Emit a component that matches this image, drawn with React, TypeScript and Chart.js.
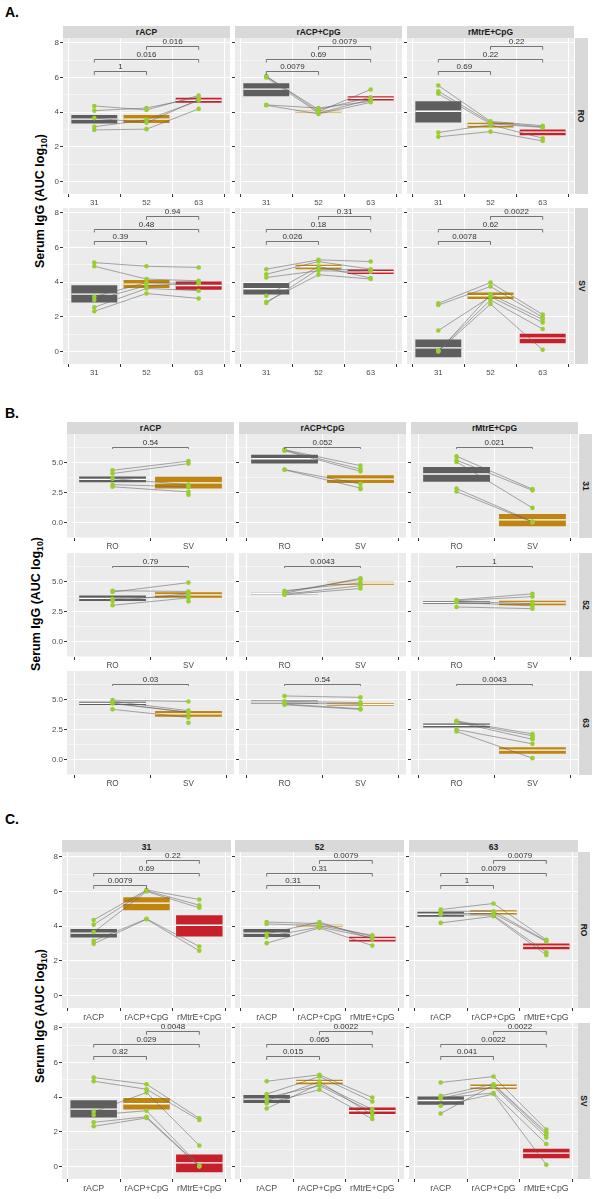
import React, { useEffect, useRef } from "react";
import { Chart, registerables } from "chart.js";

Chart.register(...registerables);

// ---------- categories ----------
const DAYS = ["31", "52", "63"];
const ANTIGENS = ["rACP", "rACP+CpG", "rMtrE+CpG"];
const ROUTES = ["RO", "SV"];

// ---------- subject values (log10 AUC) ----------
const rACP_RO_31 = [4.36, 4.09, 3.66, 3.16, 2.98];
const rACP_RO_52 = [4.13, 4.24, 3.39, 3.56, 3.02];
const rACP_RO_63 = [4.96, 4.86, 4.73, 4.67, 4.19];
const rACPCpG_RO_31 = [6.09, 6.05, 6.0, 4.42, 4.4];
const rACPCpG_RO_52 = [4.03, 4.15, 3.95, 4.24, 3.9];
const rACPCpG_RO_63 = [5.31, 4.86, 4.73, 4.63, 4.57];
const rMtrECpG_RO_31 = [5.54, 5.21, 5.06, 2.83, 2.58];
const rMtrECpG_RO_52 = [3.47, 3.41, 3.33, 3.27, 2.88];
const rMtrECpG_RO_63 = [3.22, 3.15, 3.12, 2.5, 2.34];
const rACP_SV_31 = [5.13, 4.92, 3.16, 2.97, 2.55, 2.32];
const rACP_SV_52 = [4.92, 4.18, 3.98, 3.8, 3.64, 3.35];
const rACP_SV_63 = [4.85, 4.08, 3.93, 3.95, 3.51, 3.06];
const rACPCpG_SV_31 = [4.75, 4.46, 4.27, 3.22, 2.87, 2.8];
const rACPCpG_SV_52 = [5.29, 5.19, 4.66, 4.9, 4.43, 4.75];
const rACPCpG_SV_63 = [5.19, 4.75, 4.6, 4.24, 4.18, 4.7];
const rMtrECpG_SV_31 = [2.78, 2.68, 1.21, 0.06, 0.02, 0.0];
const rMtrECpG_SV_52 = [3.98, 3.75, 3.16, 2.97, 2.74, 3.3];
const rMtrECpG_SV_63 = [2.13, 1.97, 1.68, 1.3, 0.1, 1.85];

// ---------- box stats [low, middle, high] ----------
const rACP_RO_31_box = [3.35, 3.6, 3.84];
const rACP_RO_52_box = [3.37, 3.6, 3.84];
const rACP_RO_63_box = [4.55, 4.69, 4.83];
const rACPCpG_RO_31_box = [4.92, 5.33, 5.67];
const rACPCpG_RO_52_box = [3.95, 4.02, 4.08];
const rACPCpG_RO_63_box = [4.67, 4.8, 4.92];
const rMtrECpG_RO_31_box = [3.41, 4.05, 4.63];
const rMtrECpG_RO_52_box = [3.12, 3.26, 3.39];
const rMtrECpG_RO_63_box = [2.67, 2.85, 3.0];
const rACP_SV_31_box = [2.83, 3.31, 3.83];
const rACP_SV_52_box = [3.66, 3.89, 4.12];
const rACP_SV_63_box = [3.56, 3.81, 4.04];
const rACPCpG_SV_31_box = [3.29, 3.62, 3.95];
const rACPCpG_SV_52_box = [4.75, 4.89, 5.0];
const rACPCpG_SV_63_box = [4.47, 4.6, 4.73];
const rMtrECpG_SV_31_box = [-0.33, 0.21, 0.69];
const rMtrECpG_SV_52_box = [3.03, 3.22, 3.41];
const rMtrECpG_SV_63_box = [0.48, 0.77, 1.02];

// ---------- p-values: [1 vs 2, 1 vs 3, 2 vs 3] ----------
const P_A_RO = [["1", "0.016", "0.016"], ["0.0079", "0.69", "0.0079"], ["0.69", "0.22", "0.22"]];
const P_A_SV = [["0.39", "0.48", "0.94"], ["0.026", "0.18", "0.31"], ["0.0078", "0.62", "0.0022"]];
const P_B_31 = ["0.54", "0.052", "0.021"];
const P_B_52 = ["0.79", "0.0043", "1"];
const P_B_63 = ["0.03", "0.54", "0.0043"];
const P_C_RO = [["0.0079", "0.69", "0.22"], ["0.31", "0.31", "0.0079"], ["1", "0.0079", "0.0079"]];
const P_C_SV = [["0.82", "0.029", "0.0048"], ["0.015", "0.065", "0.0022"], ["0.041", "0.0022", "0.0022"]];

// ---------- axes ----------
const Y_TICKS_8 = [0, 2, 4, 6, 8];
const Y_MINOR_8 = [1, 3, 5, 7];
const Y_TICKS_5 = [0, 2.5, 5];
const Y_MINOR_5 = [-1.25, 1.25, 3.75, 6.25];
const BRACKET_LEVELS = [6.35, 7.07, 7.8];

type Group = { vals: number[]; box: number[] };
const GROUPS: Record<string, Group> = {
  "rACP|RO|31": { vals: rACP_RO_31, box: rACP_RO_31_box },
  "rACP|RO|52": { vals: rACP_RO_52, box: rACP_RO_52_box },
  "rACP|RO|63": { vals: rACP_RO_63, box: rACP_RO_63_box },
  "rACP+CpG|RO|31": { vals: rACPCpG_RO_31, box: rACPCpG_RO_31_box },
  "rACP+CpG|RO|52": { vals: rACPCpG_RO_52, box: rACPCpG_RO_52_box },
  "rACP+CpG|RO|63": { vals: rACPCpG_RO_63, box: rACPCpG_RO_63_box },
  "rMtrE+CpG|RO|31": { vals: rMtrECpG_RO_31, box: rMtrECpG_RO_31_box },
  "rMtrE+CpG|RO|52": { vals: rMtrECpG_RO_52, box: rMtrECpG_RO_52_box },
  "rMtrE+CpG|RO|63": { vals: rMtrECpG_RO_63, box: rMtrECpG_RO_63_box },
  "rACP|SV|31": { vals: rACP_SV_31, box: rACP_SV_31_box },
  "rACP|SV|52": { vals: rACP_SV_52, box: rACP_SV_52_box },
  "rACP|SV|63": { vals: rACP_SV_63, box: rACP_SV_63_box },
  "rACP+CpG|SV|31": { vals: rACPCpG_SV_31, box: rACPCpG_SV_31_box },
  "rACP+CpG|SV|52": { vals: rACPCpG_SV_52, box: rACPCpG_SV_52_box },
  "rACP+CpG|SV|63": { vals: rACPCpG_SV_63, box: rACPCpG_SV_63_box },
  "rMtrE+CpG|SV|31": { vals: rMtrECpG_SV_31, box: rMtrECpG_SV_31_box },
  "rMtrE+CpG|SV|52": { vals: rMtrECpG_SV_52, box: rMtrECpG_SV_52_box },
  "rMtrE+CpG|SV|63": { vals: rMtrECpG_SV_63, box: rMtrECpG_SV_63_box },
};
const G = (a: string, r: string, d: string) => GROUPS[a + "|" + r + "|" + d];

// ---------- styles ----------
const FILLS = ["#5E5E5E", "#BE8510", "#C6202A"];
const POINT = "#9ACD32";
const LINE = "rgba(100,100,100,0.8)";
const FONT = '"Liberation Sans", Arial, sans-serif';
const PAD_L = 30;
const PAD_L_OTHER = 4;
const PAD_B = 16;

type Spec = {
  id: string;
  left: number;
  top: number;
  w: number;
  h: number;
  first: boolean;
  cats: string[];
  groups: Group[];
  pvals: string[];
  yMin: number;
  yMax: number;
  yMajor: number[];
  yMinor: number[];
  yDigits: number;
  xFont: number;
};

function Panel({ s }: { s: Spec }) {
  const ref = useRef<HTMLCanvasElement>(null);
  const padL = s.first ? PAD_L : PAD_L_OTHER;
  const cw = Math.round(s.w) + padL;
  const ch = Math.round(s.h) + PAD_B;
  useEffect(() => {
    const canvas = ref.current!;
    const n = s.cats.length;
    const nSub = Math.max(...s.groups.map((g) => g.vals.length));
    const datasets: any[] = [
      {
        type: "bar",
        data: s.groups.map((g, i) => ({ x: i + 1, y: [g.box[0], g.box[2]] })),
        backgroundColor: s.groups.map((_, i) => FILLS[i]),
        borderWidth: 0,
        barPercentage: 0.88,
        categoryPercentage: 1,
        order: 10,
      },
    ];
    for (let k = 0; k < nSub; k++) {
      const pts: any[] = [];
      s.groups.forEach((g, i) => {
        if (g.vals[k] !== undefined) pts.push({ x: i + 1, y: g.vals[k] });
      });
      datasets.push({
        type: "line",
        data: pts,
        borderColor: LINE,
        borderWidth: 0.7,
        pointRadius: 2.3,
        pointHoverRadius: 2.3,
        pointBackgroundColor: POINT,
        pointBorderWidth: 0,
        tension: 0,
        fill: false,
        order: 1,
      });
    }
    const medians = s.groups.map((g) => g.box[1]);
    const pairs = n === 3 ? [[1, 2], [1, 3], [2, 3]] : [[1, 2]];
    const isMinor = (v: number) => s.yMinor.some((m) => Math.abs(m - v) < 1e-6);
    const plugins: any[] = [
      {
        id: "panelBg",
        beforeDraw(chart: any) {
          const a = chart.chartArea;
          const c = chart.ctx;
          c.save();
          c.fillStyle = "#EBEBEB";
          c.fillRect(a.left, a.top, a.right - a.left, a.bottom - a.top);
          c.restore();
        },
      },
      {
        id: "medianLine",
        afterDatasetDraw(chart: any, args: any) {
          if (args.index !== 0) return;
          const meta = chart.getDatasetMeta(0);
          const ys = chart.scales.y;
          const c = chart.ctx;
          c.save();
          c.strokeStyle = "#FFFFFF";
          c.lineWidth = 1.4;
          meta.data.forEach((bar: any, i: number) => {
            const p = bar.getProps(["x", "width"], true);
            const yy = ys.getPixelForValue(medians[i]);
            c.beginPath();
            c.moveTo(p.x - p.width / 2, yy);
            c.lineTo(p.x + p.width / 2, yy);
            c.stroke();
          });
          c.restore();
        },
      },
      {
        id: "brackets",
        afterDatasetsDraw(chart: any) {
          const xs = chart.scales.x;
          const ys = chart.scales.y;
          const c = chart.ctx;
          c.save();
          pairs.forEach(([a, b], j) => {
            const lv = BRACKET_LEVELS[j];
            const y = Math.round(ys.getPixelForValue(lv)) + 0.5;
            const yt = ys.getPixelForValue(lv - 0.2);
            const x1 = xs.getPixelForValue(a);
            const x2 = xs.getPixelForValue(b);
            c.strokeStyle = "#555555";
            c.lineWidth = 0.8;
            c.beginPath();
            c.moveTo(x1, yt);
            c.lineTo(x1, y);
            c.lineTo(x2, y);
            c.lineTo(x2, yt);
            c.stroke();
            c.fillStyle = "#333333";
            c.font = "8px " + FONT;
            c.textAlign = "center";
            c.textBaseline = "bottom";
            c.fillText(s.pvals[j], (x1 + x2) / 2, y - 0.5);
          });
          c.restore();
        },
      },
    ];
    const chart = new Chart(canvas, {
      type: "bar",
      data: { datasets },
      plugins,
      options: {
        responsive: false,
        animation: false,
        events: [],
        layout: { padding: 0, autoPadding: false },
        plugins: { legend: { display: false }, tooltip: { enabled: false } },
        scales: {
          x: {
            type: "linear",
            min: 0.4,
            max: n + 0.6,
            offset: false,
            afterBuildTicks: (ax: any) => {
              ax.ticks = s.cats.map((_, i) => ({ value: i + 1 }));
            },
            afterFit: (ax: any) => {
              ax.height = PAD_B;
              ax.paddingLeft = 0;
              ax.paddingRight = 0;
            },
            ticks: {
              autoSkip: false,
              maxRotation: 0,
              padding: 1,
              color: "#4D4D4D",
              font: { family: FONT, size: s.xFont },
              callback: (v: any) => s.cats[Math.round(Number(v)) - 1] ?? "",
            },
            grid: { color: "#FFFFFF", lineWidth: 1, tickColor: "#333333", tickLength: 3, drawTicks: true },
            border: { display: false },
          },
          y: {
            type: "linear",
            min: s.yMin,
            max: s.yMax,
            afterBuildTicks: (ax: any) => {
              ax.ticks = [...s.yMajor, ...s.yMinor]
                .filter((v) => v >= s.yMin && v <= s.yMax)
                .sort((a, b) => a - b)
                .map((v) => ({ value: v }));
            },
            afterFit: (ax: any) => {
              ax.width = padL;
              ax.paddingTop = 0;
              ax.paddingBottom = 0;
            },
            ticks: {
              display: s.first,
              autoSkip: false,
              padding: 1,
              color: "#4D4D4D",
              font: { family: FONT, size: 8 },
              callback: (v: any) => (isMinor(Number(v)) ? "" : Number(v).toFixed(s.yDigits)),
            },
            grid: {
              color: "#FFFFFF",
              lineWidth: (ctx: any) => (ctx.tick && isMinor(ctx.tick.value) ? 0.5 : 1),
              tickColor: (ctx: any) => (ctx.tick && isMinor(ctx.tick.value) ? "rgba(0,0,0,0)" : "#333333"),
              tickLength: 3,
              drawTicks: true,
            },
            border: { display: false },
          },
        },
      },
    } as any);
    return () => chart.destroy();
  }, []);
  return (
    <canvas
      ref={ref}
      width={cw}
      height={ch}
      style={{ position: "absolute", left: Math.round(s.left) - padL, top: Math.round(s.top), width: cw, height: ch }}
    />
  );
}

type Section = {
  label: string;
  labelTop: number;
  colLefts: number[];
  w: number;
  rowTops: number[];
  h: number;
  stripTop: number;
  stripH: number;
  rStripLeft: number;
  rStripW: number;
  titleX: number;
  colLabels: string[];
  rowLabels: string[];
  xFont: number;
  yMin: number;
  yMax: number;
  yMajor: number[];
  yMinor: number[];
  yDigits: number;
  panel: (r: number, c: number) => { cats: string[]; groups: Group[]; pvals: string[] };
};

const SECTIONS: Section[] = [
  {
    label: "A.",
    labelTop: 5,
    colLefts: [63, 235, 407],
    w: 167,
    rowTops: [37.5, 208],
    h: 155.5,
    stripTop: 26,
    stripH: 11.5,
    rStripLeft: 575,
    rStripW: 12.5,
    titleX: 42,
    colLabels: ANTIGENS,
    rowLabels: ROUTES,
    xFont: 7.8,
    yMin: -0.72,
    yMax: 8.28,
    yMajor: Y_TICKS_8,
    yMinor: Y_MINOR_8,
    yDigits: 0,
    panel: (r, c) => ({
      cats: DAYS,
      groups: DAYS.map((d) => G(ANTIGENS[c], ROUTES[r], d)),
      pvals: (r === 0 ? P_A_RO : P_A_SV)[c],
    }),
  },
  {
    label: "B.",
    labelTop: 406,
    colLefts: [66.5, 238.5, 410.5],
    w: 167,
    rowTops: [434, 552.5, 670.5],
    h: 104,
    stripTop: 422,
    stripH: 12,
    rStripLeft: 578.5,
    rStripW: 13,
    titleX: 38,
    colLabels: ANTIGENS,
    rowLabels: DAYS,
    xFont: 8.2,
    yMin: -1.31,
    yMax: 7.4,
    yMajor: Y_TICKS_5,
    yMinor: Y_MINOR_5,
    yDigits: 1,
    panel: (r, c) => ({
      cats: ROUTES,
      groups: ROUTES.map((rt) => G(ANTIGENS[c], rt, DAYS[r])),
      pvals: [[P_B_31, P_B_52, P_B_63][r][c]],
    }),
  },
  {
    label: "C.",
    labelTop: 811.5,
    colLefts: [61.7, 235.3, 408.8],
    w: 168.5,
    rowTops: [852, 1023],
    h: 156,
    stripTop: 839.5,
    stripH: 12.5,
    rStripLeft: 578.3,
    rStripW: 12,
    titleX: 41.5,
    colLabels: DAYS,
    rowLabels: ROUTES,
    xFont: 8.8,
    yMin: -0.72,
    yMax: 8.28,
    yMajor: Y_TICKS_8,
    yMinor: Y_MINOR_8,
    yDigits: 0,
    panel: (r, c) => ({
      cats: ANTIGENS,
      groups: ANTIGENS.map((a) => G(a, ROUTES[r], DAYS[c])),
      pvals: (r === 0 ? P_C_RO : P_C_SV)[c],
    }),
  },
];

function SectionView({ sec }: { sec: Section }) {
  const items: any[] = [];
  const last = sec.rowTops.length - 1;
  const titleY = (sec.rowTops[0] + sec.rowTops[last] + sec.h) / 2;
  items.push(
    <div
      key="lab"
      style={{ position: "absolute", left: 5, top: sec.labelTop, fontSize: 14, lineHeight: "14px", fontWeight: 700, color: "#000" }}
    >
      {sec.label}
    </div>
  );
  items.push(
    <div
      key="title"
      style={{
        position: "absolute",
        left: sec.titleX,
        top: titleY,
        transform: "translate(-50%, -50%) rotate(-90deg)",
        whiteSpace: "nowrap",
        fontSize: 12.5,
        fontWeight: 700,
        color: "#000",
        lineHeight: "14px",
      }}
    >
      Serum IgG (AUC log<sub style={{ fontSize: "0.7em", verticalAlign: "-0.25em" }}>10</sub>)
    </div>
  );
  sec.colLabels.forEach((t, c) => {
    items.push(
      <div
        key={"ts" + c}
        style={{
          position: "absolute",
          left: Math.round(sec.colLefts[c]),
          top: Math.round(sec.stripTop),
          width: Math.round(sec.w),
          height: Math.round(sec.stripH),
          background: "#D9D9D9",
          display: "flex",
          alignItems: "center",
          justifyContent: "center",
          fontSize: 8.5,
          fontWeight: 700,
          color: "#1A1A1A",
          lineHeight: "10px",
        }}
      >
        {t}
      </div>
    );
  });
  sec.rowLabels.forEach((t, r) => {
    items.push(
      <div
        key={"rs" + r}
        style={{
          position: "absolute",
          left: Math.round(sec.rStripLeft),
          top: Math.round(sec.rowTops[r]),
          width: Math.round(sec.rStripW),
          height: Math.round(sec.h),
          background: "#D9D9D9",
          display: "flex",
          alignItems: "center",
          justifyContent: "center",
          fontSize: 8.5,
          fontWeight: 700,
          color: "#1A1A1A",
        }}
      >
        <span style={{ display: "inline-block", transform: "rotate(90deg)", whiteSpace: "nowrap" }}>{t}</span>
      </div>
    );
  });
  sec.rowTops.forEach((top, r) => {
    sec.colLefts.forEach((left, c) => {
      const p = sec.panel(r, c);
      const spec: Spec = {
        id: sec.label + r + c,
        left,
        top,
        w: sec.w,
        h: sec.h,
        first: c === 0,
        cats: p.cats,
        groups: p.groups,
        pvals: p.pvals,
        yMin: sec.yMin,
        yMax: sec.yMax,
        yMajor: sec.yMajor,
        yMinor: sec.yMinor,
        yDigits: sec.yDigits,
        xFont: sec.xFont,
      };
      items.push(<Panel key={"p" + r + c} s={spec} />);
    });
  });
  return <>{items}</>;
}

export default function App() {
  return (
    <div
      style={{
        position: "absolute",
        left: 0,
        top: 0,
        width: 597,
        height: 1199,
        overflow: "hidden",
        background: "#FFFFFF",
        fontFamily: FONT,
      }}
    >
      {SECTIONS.map((sec) => (
        <SectionView key={sec.label} sec={sec} />
      ))}
    </div>
  );
}
